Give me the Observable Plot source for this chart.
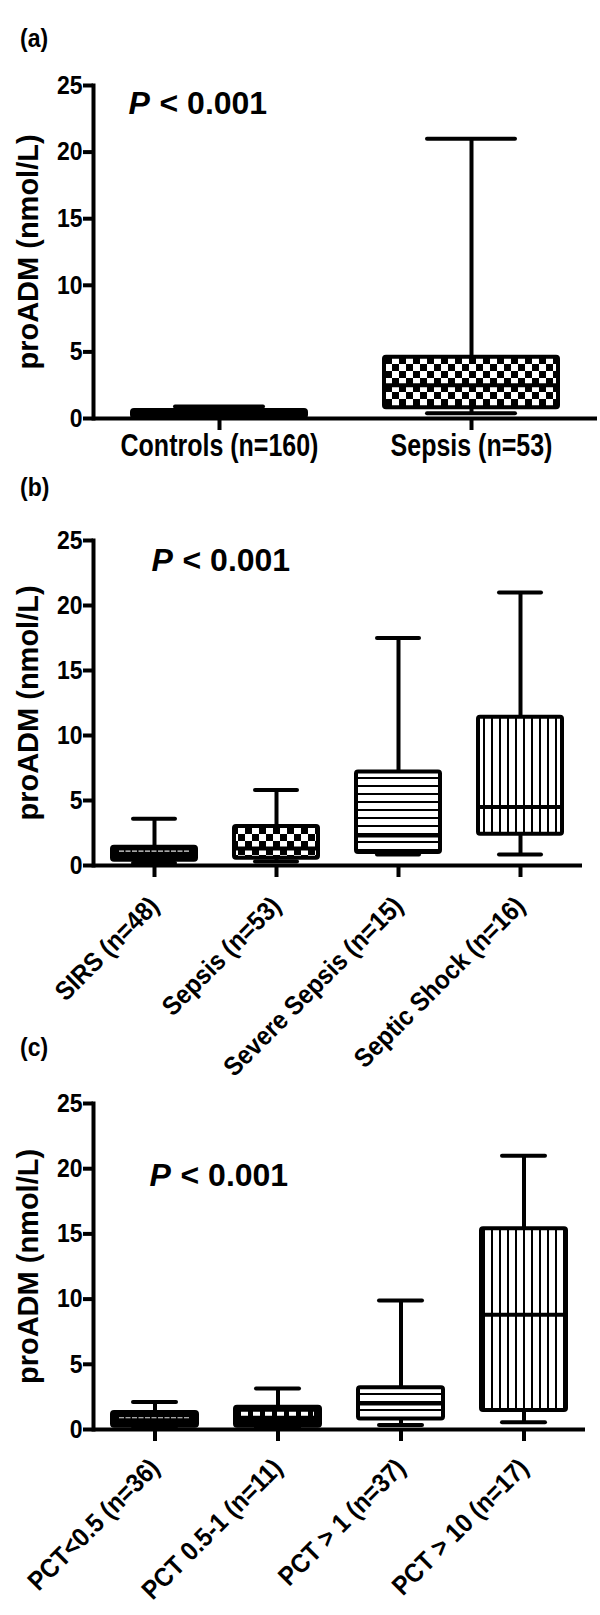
<!DOCTYPE html>
<html>
<head>
<meta charset="utf-8">
<script src="https://cdn.jsdelivr.net/npm/d3@7"></script>
<script src="https://cdn.jsdelivr.net/npm/@observablehq/plot@0.6"></script>
<style>
  body { margin: 0; background: #fff; }
  #root { position: relative; width: 600px; height: 1615px; font-family: "Liberation Sans", Arial, sans-serif; font-weight: bold; color: #000; }
  .panel-label { position: absolute; left: 20px; font-size: 23px; line-height: 1; transform: scaleY(1.1); transform-origin: top left; }
</style>
</head>
<body>
<svg width="0" height="0" style="position:absolute;left:0;top:0">
  <defs>
    <pattern id="checker" patternUnits="userSpaceOnUse" width="14" height="14">
      <rect width="14" height="14" fill="white"/>
      <rect width="7" height="7" fill="black"/>
      <rect x="7" y="7" width="7" height="7" fill="black"/>
    </pattern>
    <pattern id="hlines" patternUnits="userSpaceOnUse" width="8" height="8">
      <rect width="8" height="8" fill="white"/>
      <rect y="3" width="8" height="2" fill="black"/>
    </pattern>
    <pattern id="vlines" patternUnits="userSpaceOnUse" width="8" height="8">
      <rect width="8" height="8" fill="white"/>
      <rect x="3" width="2" height="8" fill="black"/>
    </pattern>
  </defs>
</svg>
<div id="root">
  <div class="panel-label" style="top:26px">(a)</div>
  <div class="panel-label" style="top:475px">(b)</div>
  <div class="panel-label" style="top:1035px">(c)</div>
</div>
<script>
// ---------- data ----------
const yLabel = "proADM (nmol/L)";
const yTicks = [0, 5, 10, 15, 20, 25];
const pText = "P";
const pValue = "< 0.001";

// panel (a)
const groupsA = ["Controls (n=160)", "Sepsis (n=53)"];
const minA = [0.05, 0.4];
const q1A  = [0.1, 0.8];
const medA = [0.35, 2.5];
const q3A  = [0.6, 4.6];
const maxA = [0.9, 21];

// panel (b)
const groupsB = ["SIRS (n=48)", "Sepsis (n=53)", "Severe Sepsis (n=15)", "Septic Shock (n=16)"];
const minB = [0.2, 0.3, 0.85, 0.85];
const q1B  = [0.4, 0.55, 1.0, 2.4];
const medB = [1.1, 1.3, 2.3, 4.5];
const q3B  = [1.4, 3.0, 7.2, 11.4];
const maxB = [3.6, 5.8, 17.5, 21];

// panel (c)
const groupsC = ["PCT<0.5 (n=36)", "PCT 0.5-1 (n=11)", "PCT > 1 (n=37)", "PCT > 10 (n=17)"];
const minC = [0.1, 0.15, 0.35, 0.55];
const q1C  = [0.25, 0.25, 0.8, 1.45];
const medC = [0.9, 1.2, 2.0, 8.8];
const q3C  = [1.3, 1.7, 3.2, 15.4];
const maxC = [2.1, 3.15, 9.9, 21];

// fill styles (patterns) and light median marking for dark boxes
const fillsA = ["black", "url(#checker)"];
const fillsB = ["black", "url(#checker)", "url(#hlines)", "url(#vlines)"];
const fillsC = ["black", "black", "url(#hlines)", "url(#vlines)"];
const lightMedA = ["none", "none"];
const lightMedB = ["thin", "none", "none", "none"];
const lightMedC = ["thin", "dash", "none", "none"];

const FONT = '"Liberation Sans", Arial, sans-serif';

function stretch(el, sx, sy) {
  const t = el.getAttribute("transform");
  if (t) {
    el.setAttribute("transform", t + ` scale(${sx},${sy})`);
  } else {
    const x = +el.getAttribute("x") || 0, y = +el.getAttribute("y") || 0;
    el.removeAttribute("x"); el.removeAttribute("y");
    el.setAttribute("transform", `translate(${x},${y}) scale(${sx},${sy})`);
  }
}

function panel(cfg) {
  const rows = cfg.groups.map((g, i) => ({
    group: g, min: cfg.mins[i], q1: cfg.q1s[i], med: cfg.meds[i], q3: cfg.q3s[i], max: cfg.maxs[i], light: cfg.light[i]
  }));
  const marginTop = cfg.frameTop - cfg.top;
  const marginBottom = cfg.height - (cfg.zeroY - cfg.top);
  const chart = Plot.plot({
    width: 600,
    height: cfg.height,
    marginTop,
    marginBottom,
    marginLeft: 93,
    marginRight: cfg.marginRight,
    style: { background: "transparent", fontFamily: FONT, fontWeight: "bold", overflow: "visible", color: "black" },
    x: { domain: cfg.groups, paddingInner: 0.31, paddingOuter: 0.155 },
    y: { domain: [0, 25] },
    color: { type: "ordinal", domain: cfg.groups, range: cfg.fills },
    marks: [
      Plot.ruleX(rows, { x: "group", y1: "q3", y2: "max", stroke: "black", strokeWidth: 4 }),
      Plot.ruleX(rows, { x: "group", y1: "min", y2: "q1", stroke: "black", strokeWidth: 4 }),
      Plot.tickY(rows, { x: "group", y: "max", stroke: "black", strokeWidth: 4, strokeLinecap: "round", insetLeft: cfg.capInset, insetRight: cfg.capInset }),
      Plot.tickY(rows, { x: "group", y: "min", stroke: "black", strokeWidth: 4, strokeLinecap: "round", insetLeft: cfg.capInset, insetRight: cfg.capInset }),
      Plot.barY(rows, { x: "group", y1: "q1", y2: "q3", fill: "group", stroke: "black", strokeWidth: 4, strokeLinejoin: "round", rx: 2 }),
      Plot.tickY(rows, { x: "group", y: "med", stroke: "black", strokeWidth: 4 }),
      Plot.tickY(rows.filter(d => d.light === "thin"), { x: "group", y: "med", stroke: "#ddd", strokeWidth: 1.2, strokeDasharray: "5,1.5", insetLeft: 7, insetRight: 7 }),
      Plot.tickY(rows.filter(d => d.light === "dash"), { x: "group", y: "med", stroke: "white", strokeWidth: 4, strokeDasharray: "7,5", insetLeft: 6, insetRight: 6 }),
      Plot.ruleY([0], { stroke: "black", strokeWidth: 4 }),
      Plot.frame({ anchor: "left", stroke: "black", strokeWidth: 4 }),
      Plot.axisY({ ticks: yTicks, tickSize: 10, tickPadding: 1, fontSize: 23, strokeWidth: 4, label: null }),
      Plot.axisX({ tickSize: 12, tickPadding: cfg.tickPadding, tickRotate: cfg.rotate, fontSize: cfg.xFont, strokeWidth: 4, label: null }),
      Plot.text([yLabel], { ariaLabel: "y-label", frameAnchor: "left", text: d => d, rotate: -90, dx: -65, fontSize: 29, fontWeight: "bold", textAnchor: "middle", lineAnchor: "middle" }),
      Plot.text([pText], { ariaLabel: "p-text", frameAnchor: "top-left", text: d => d, dx: cfg.pDx, dy: cfg.pDy, fontSize: 32, fontWeight: "bold", fontStyle: "italic", textAnchor: "start", lineAnchor: "bottom" }),
      Plot.text([pValue], { ariaLabel: "p-text", frameAnchor: "top-left", text: d => d, dx: cfg.pDx + 31, dy: cfg.pDy, fontSize: 32, fontWeight: "bold", textAnchor: "start", lineAnchor: "bottom" })
    ]
  });
  // text proportions of the original figure (taller glyphs)
  chart.querySelectorAll('g[aria-label="y-axis tick label"] text').forEach(t => stretch(t, 1, 1.12));
  chart.querySelectorAll('g[aria-label="x-axis tick label"] text').forEach(t => stretch(t, 1, cfg.rotate ? 1.1 : 1.22));
  chart.querySelectorAll('g[aria-label="y-label"] text').forEach(t => stretch(t, 1, 0.82));
  chart.querySelectorAll('g[aria-label="p-text"] text').forEach(t => stretch(t, 1, 1.05));
  chart.style.position = "absolute";
  chart.style.left = "0px";
  chart.style.top = cfg.top + "px";
  document.getElementById("root").appendChild(chart);
}

panel({
  groups: groupsA, mins: minA, q1s: q1A, meds: medA, q3s: q3A, maxs: maxA, fills: fillsA, light: lightMedA,
  top: 0, height: 470, frameTop: 85, zeroY: 418, marginRight: 3, capInset: 43,
  rotate: 0, tickPadding: 4, xFont: 25, pDx: 35, pDy: 28
});
panel({
  groups: groupsB, mins: minB, q1s: q1B, meds: medB, q3s: q3B, maxs: maxB, fills: fillsB, light: lightMedB,
  top: 470, height: 610, frameTop: 540, zeroY: 865, marginRight: 18, capInset: 21,
  rotate: -45, tickPadding: 24, xFont: 24, pDx: 58, pDy: 30
});
panel({
  groups: groupsC, mins: minC, q1s: q1C, meds: medC, q3s: q3C, maxs: maxC, fills: fillsC, light: lightMedC,
  top: 1030, height: 585, frameTop: 1103, zeroY: 1429, marginRight: 15, capInset: 21,
  rotate: -45, tickPadding: 22, xFont: 24, pDx: 56, pDy: 82
});
</script>
</body>
</html>
